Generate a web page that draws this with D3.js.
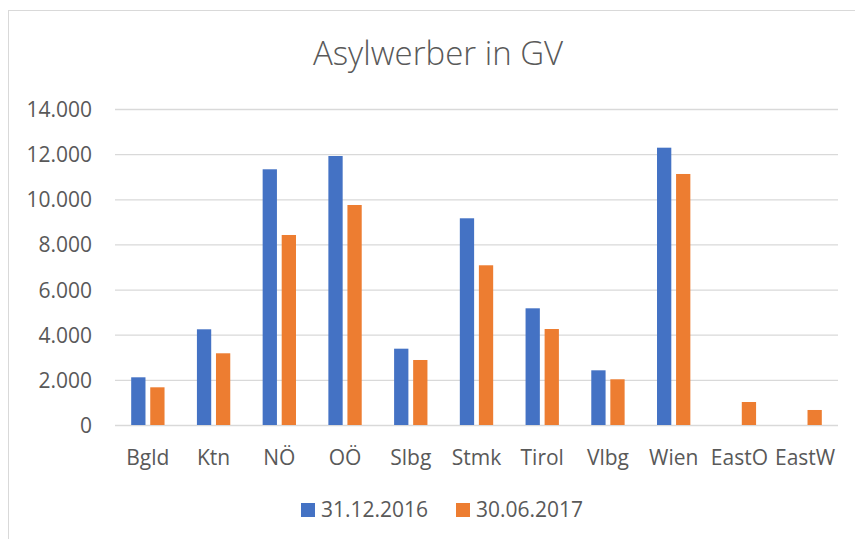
<!doctype html>
<html>
<head>
<meta charset="utf-8">
<script src="https://d3js.org/d3.v7.min.js"></script>
<title>Asylwerber in GV</title>
<style>
  body { margin: 0; background: #fff; }
  text { font-family: "Open Sans", "Noto Sans", sans-serif; fill: #595959; }
</style>
</head>
<body>
<svg width="855" height="539"></svg>
<script>

    var categories = ["Bgld", "Ktn", "NÖ", "OÖ", "Slbg", "Stmk", "Tirol", "Vlbg", "Wien", "EastO", "EastW"];
    var seriesNames = ["31.12.2016", "30.06.2017"];
    var values2016 = [2113, 4240, 11329, 11918, 3381, 9158, 5170, 2423, 12286, 0, 0];
    var values2017 = [1670, 3177, 8418, 9747, 2880, 7076, 4253, 2025, 11121, 1019, 665];
    var yTicks = [0, 2000, 4000, 6000, 8000, 10000, 12000, 14000];
    var colors = ["#4472C4", "#ED7D31"];

    var data = categories.map(function(c, i) {
        return { cat: c, vals: [values2016[i], values2017[i]] };
    });

    var de = d3.formatLocale({ decimal: ",", thousands: ".", grouping: [3], currency: ["", " €"] });
    var fmt = de.format(",d");

    var svg = d3.select("svg");

    // chart border (only top/left visible in the picture)
    svg.append("rect")
       .attr("x", 8.5).attr("y", 10.5)
       .attr("width", 860).attr("height", 540)
       .attr("fill", "#fff")
       .attr("stroke", "#D9D9D9")
       .attr("stroke-width", 1);

    var plotLeft = 115, plotRight = 838, plotTop = 109, plotBottom = 425;

    var xScale = d3.scaleBand().domain(categories).range([plotLeft, plotRight]).padding(0);
    var xInner = d3.scaleBand().domain([0, 1]).range([0, xScale.bandwidth()])
                   .paddingInner(0.25).paddingOuter(0.85);
    var yScale = d3.scaleLinear().domain([0, 14000]).range([plotBottom, plotTop]);

    // gridlines
    svg.append("g")
       .attr("transform", "translate(" + plotLeft + ",0)")
       .call(d3.axisLeft(yScale).tickValues(yTicks).tickSize(-(plotRight - plotLeft)).tickFormat(""))
       .call(function(g) {
           g.select(".domain").remove();
           g.selectAll("line").attr("stroke", "#D9D9D9").attr("stroke-width", 1.3);
       });

    // y labels
    svg.append("g")
       .attr("transform", "translate(92,0)")
       .call(d3.axisLeft(yScale).tickValues(yTicks).tickSize(0).tickPadding(0).tickFormat(fmt))
       .call(function(g) {
           g.select(".domain").remove();
           g.selectAll("text").attr("font-size", "21px").attr("fill", "#595959")
            .attr("font-family", "'Open Sans', sans-serif").attr("dy", "0.36em");
       });

    // bars
    var groups = svg.selectAll(".grp")
       .data(data)
       .enter().append("g")
       .attr("class", "grp")
       .attr("transform", function(d) { return "translate(" + xScale(d.cat) + ",0)"; });

    groups.selectAll("rect")
       .data(function(d) { return d.vals.map(function(v, i) { return { v: v, i: i }; }); })
       .enter().filter(function(d) { return d.v > 0; }).append("rect")
       .attr("x", function(d) { return xInner(d.i); })
       .attr("y", function(d) { return yScale(d.v); })
       .attr("width", xInner.bandwidth())
       .attr("height", function(d) { return yScale(0) - yScale(d.v); })
       .attr("fill", function(d) { return colors[d.i]; });

    // x labels
    svg.append("g")
       .attr("transform", "translate(0," + plotBottom + ")")
       .call(d3.axisBottom(xScale).tickSize(0).tickPadding(0))
       .call(function(g) {
           g.select(".domain").remove();
           g.selectAll("text").attr("font-size", "21px").attr("fill", "#595959")
            .attr("font-family", "'Open Sans', sans-serif")
            .attr("dy", null).attr("y", 40);
       });

    // title
    svg.append("text")
       .attr("x", 438)
       .attr("y", 65)
       .attr("text-anchor", "middle")
       .attr("font-size", "33px")
       .attr("font-weight", 300)
       .text("Asylwerber in GV");

    // legend
    var legendX = [301, 456];
    var legend = svg.selectAll(".leg")
       .data(seriesNames)
       .enter().append("g")
       .attr("class", "leg")
       .attr("transform", function(d, i) { return "translate(" + legendX[i] + ",503)"; });

    legend.append("rect")
       .attr("width", 14).attr("height", 14)
       .attr("fill", function(d, i) { return colors[i]; });

    legend.append("text")
       .attr("x", 20).attr("y", 14)
       .attr("font-size", "21px")
       .text(function(d) { return d; });
</script>
</body>
</html>
